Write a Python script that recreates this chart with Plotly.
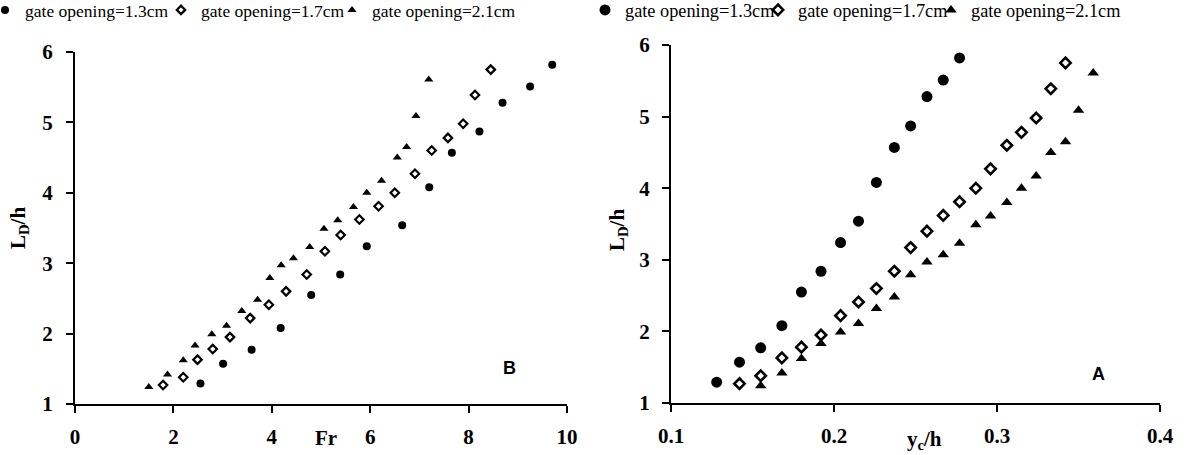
import plotly.graph_objects as go

# ---- data ----
series_names = ["gate opening=1.3cm", "gate opening=1.7cm", "gate opening=2.1cm"]

fr_13 = [2.55, 3.01, 3.59, 4.18, 4.80, 5.39, 5.93, 6.65, 7.20, 7.66, 8.22, 8.69, 9.25, 9.70]
ld_13 = [1.29, 1.57, 1.77, 2.08, 2.55, 2.84, 3.24, 3.54, 4.08, 4.57, 4.87, 5.28, 5.51, 5.82]
yc_13 = [0.128, 0.142, 0.155, 0.168, 0.180, 0.192, 0.204, 0.215, 0.226, 0.237, 0.247, 0.257, 0.267, 0.277]

fr_17 = [1.79, 2.20, 2.49, 2.80, 3.15, 3.56, 3.94, 4.29, 4.71, 5.08, 5.40, 5.78, 6.17, 6.50,
         6.91, 7.25, 7.58, 7.89, 8.13, 8.45]
ld_17 = [1.27, 1.38, 1.63, 1.78, 1.95, 2.22, 2.41, 2.60, 2.84, 3.17, 3.40, 3.62, 3.81, 4.00,
         4.27, 4.60, 4.78, 4.98, 5.39, 5.75]
yc_17 = [0.142, 0.155, 0.168, 0.180, 0.192, 0.204, 0.215, 0.226, 0.237, 0.247, 0.257, 0.267,
         0.277, 0.287, 0.296, 0.306, 0.315, 0.324, 0.333, 0.342]

fr_21 = [1.50, 1.88, 2.20, 2.44, 2.78, 3.08, 3.39, 3.71, 3.96, 4.19, 4.44, 4.77, 5.06, 5.34,
         5.66, 5.93, 6.23, 6.55, 6.74, 6.93, 7.19]
ld_21 = [1.24, 1.42, 1.62, 1.83, 1.99, 2.11, 2.32, 2.48, 2.79, 2.97, 3.07, 3.23, 3.49, 3.61,
         3.80, 4.00, 4.17, 4.50, 4.65, 5.09, 5.61]
yc_21 = [0.155, 0.168, 0.180, 0.192, 0.204, 0.215, 0.226, 0.237, 0.247, 0.257, 0.267, 0.277,
         0.287, 0.296, 0.306, 0.315, 0.324, 0.333, 0.342, 0.350, 0.359]

left_x_ticks = [0, 2, 4, 6, 8, 10]
right_x_ticks = [0.1, 0.2, 0.3, 0.4]
y_ticks = [1, 2, 3, 4, 5, 6]

SERIF = "Liberation Serif"
SANS = "Liberation Sans"

fig = go.Figure()

left_styles = [
    dict(symbol="circle", size=8, color="black", line=dict(width=0)),
    dict(symbol="diamond-open", size=6.5, color="black", line=dict(width=2.2, color="black")),
    dict(symbol="triangle-up", size=8, color="black", line=dict(width=0)),
]
right_styles = [
    dict(symbol="circle", size=11, color="black", line=dict(width=0)),
    dict(symbol="diamond-open", size=8, color="black", line=dict(width=2.6, color="black")),
    dict(symbol="triangle-up", size=10, color="black", line=dict(width=0)),
]

left_data = [(fr_13, ld_13), (fr_17, ld_17), (fr_21, ld_21)]
right_data = [(yc_13, ld_13), (yc_17, ld_17), (yc_21, ld_21)]

# one single-item legend per entry, so each entry sits where the reference puts it
left_legend_ids = ["legend", "legend2", "legend3"]
right_legend_ids = ["legend4", "legend5", "legend6"]
left_legend_px = [-15, 161, 332]
right_legend_px = [585, 758, 931]

for name, (x, y), st, lid in zip(series_names, left_data, left_styles, left_legend_ids):
    fig.add_trace(go.Scatter(x=x, y=y, mode="markers", name=name, marker=st,
                             xaxis="x", yaxis="y", legend=lid))
for name, (x, y), st, lid in zip(series_names, right_data, right_styles, right_legend_ids):
    fig.add_trace(go.Scatter(x=x, y=y, mode="markers", name=name, marker=st,
                             xaxis="x2", yaxis="y2", legend=lid))

axis_common = dict(
    showline=True, linecolor="black", linewidth=2,
    ticks="outside", ticklen=7, tickwidth=2, tickcolor="black",
    showgrid=False, zeroline=False,
    tickfont=dict(family=SERIF, size=21, color="black", weight="bold"),
)

bold_title = dict(family=SERIF, size=21, color="black", weight="bold")
label_font = dict(family=SANS, size=18, color="black", weight="bold")


def legend_box(px, size):
    return dict(orientation="h", x=px / 1200, y=1 - 10 / 455, xanchor="left", yanchor="middle",
                xref="paper", yref="container", bgcolor="rgba(0,0,0,0)",
                font=dict(family=SERIF, size=size, color="black"),
                itemsizing="trace", tracegroupgap=0)


legends = {}
for lid, px in zip(left_legend_ids, left_legend_px):
    legends[lid] = legend_box(px, 17.5)
for lid, px in zip(right_legend_ids, right_legend_px):
    legends[lid] = legend_box(px, 18.3)

fig.update_layout(
    width=1200, height=455,
    margin=dict(l=0, r=0, t=0, b=0, autoexpand=False),
    paper_bgcolor="white", plot_bgcolor="white",
    showlegend=True,
    xaxis=dict(domain=[0.0625, 0.4725], range=[0, 10], tickvals=left_x_ticks,
               anchor="y", ticklabelstandoff=6, **axis_common),
    yaxis=dict(domain=[0.1121, 0.8857], range=[1, 6], tickvals=y_ticks,
               anchor="x", ticklabelstandoff=9, **axis_common),
    xaxis2=dict(domain=[0.5592, 0.9667], range=[0.1, 0.4], tickvals=right_x_ticks,
                anchor="y2", ticklabelstandoff=6, **axis_common),
    yaxis2=dict(domain=[0.1143, 0.9011], range=[1, 6], tickvals=y_ticks,
                anchor="x2", ticklabelstandoff=8, **axis_common),
    annotations=[
        dict(text="L<sub>D</sub>/h", xref="paper", yref="paper", x=19 / 1200, y=1 - 228 / 455,
             xanchor="center", yanchor="middle", showarrow=False, textangle=-90, font=bold_title),
        dict(text="L<sub>D</sub>/h", xref="paper", yref="paper", x=618 / 1200, y=1 - 230 / 455,
             xanchor="center", yanchor="middle", showarrow=False, textangle=-90, font=bold_title),
        dict(text="Fr", xref="paper", yref="paper", x=326 / 1200, y=1 - 438 / 455,
             xanchor="center", yanchor="middle", showarrow=False, font=bold_title),
        dict(text="y<sub>c</sub>/h", xref="paper", yref="paper", x=924 / 1200, y=1 - 440 / 455,
             xanchor="center", yanchor="middle", showarrow=False, font=bold_title),
        dict(text="B", xref="paper", yref="paper", x=509 / 1200, y=1 - 368 / 455,
             xanchor="center", yanchor="middle", showarrow=False, font=label_font),
        dict(text="A", xref="paper", yref="paper", x=1098 / 1200, y=1 - 374 / 455,
             xanchor="center", yanchor="middle", showarrow=False, font=label_font),
    ],
    **legends,
)

fig.write_html("out.html", config={"displayModeBar": False},
               post_script="document.body.style.margin='0';document.body.style.overflow='hidden';")
